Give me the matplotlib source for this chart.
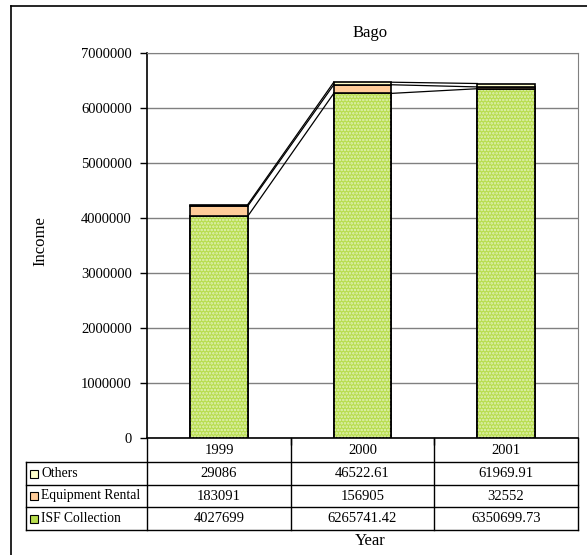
import numpy as np
import matplotlib.pyplot as plt
from matplotlib.patches import Rectangle
from matplotlib.lines import Line2D
from matplotlib.ticker import FuncFormatter

plt.rcParams['font.family'] = 'Liberation Serif'
plt.rcParams['hatch.linewidth'] = 1.2

years = ['1999', '2000', '2001']
isf_collection = [4027699, 6265741.42, 6350699.73]
equipment_rental = [183091, 156905, 32552]
others = [29086, 46522.61, 61969.91]
isf_text = ['4027699', '6265741.42', '6350699.73']
rental_text = ['183091', '156905', '32552']
others_text = ['29086', '46522.61', '61969.91']

W, H = 587, 555
fig = plt.figure(figsize=(W / 100, H / 100), dpi=100)

def fx(px):
    return px / W

def fy(py):
    return 1 - py / H

ax = fig.add_axes([fx(147), fy(438), fx(578) - fx(147), fy(53) - fy(438)])

x = np.arange(len(years))
w = 0.4
isf = np.array(isf_collection)
rent = np.array(equipment_rental)
oth = np.array(others)

green = '#b8dd4e'
ax.bar(x, isf, w, color=green, edgecolor='black', linewidth=1.2, zorder=3)
ax.bar(x, isf, w, facecolor='none', edgecolor='#e2f2b8', hatch='.....', linewidth=0, zorder=3)
ax.bar(x, isf, w, facecolor='none', edgecolor='black', linewidth=1.2, zorder=3)
ax.bar(x, rent, w, bottom=isf, color='#ffcc99', edgecolor='black', linewidth=1.2, zorder=3)
ax.bar(x, oth, w, bottom=isf + rent, color='#ffffcc', edgecolor='black', linewidth=1.2, zorder=3)

# series lines joining the top of each segment
tops = [isf, isf + rent, isf + rent + oth]
for t in tops:
    for i in range(len(x) - 1):
        ax.plot([x[i] + w / 2, x[i + 1] - w / 2], [t[i], t[i + 1]], color='black', lw=0.9, zorder=4)

ax.set_xlim(-0.5, 2.5)
ax.set_ylim(0, 7000000)
ax.set_yticks(np.arange(0, 7000001, 1000000))
ax.yaxis.set_major_formatter(FuncFormatter(lambda v, p: '%d' % v))
ax.grid(axis='y', color='#808080', lw=1.0, zorder=0)
ax.set_xticks([0.5, 1.5])
ax.set_xticklabels([])
ax.tick_params(axis='x', length=5, direction='out', width=1)
ax.tick_params(axis='y', labelsize=10.5, length=5, direction='out', width=1, pad=6)
for s in ['top', 'right']:
    ax.spines[s].set_color('#808080')
ax.spines['left'].set_linewidth(1.2)
ax.spines['bottom'].set_linewidth(1.2)

fig.text(fx(370), fy(33), 'Bago', ha='center', va='center', fontsize=12)
fig.text(fx(40), fy(241), 'Income', rotation=90, ha='center', va='center', fontsize=12)
fig.text(fx(370), fy(541), 'Year', ha='center', va='center', fontsize=12)

# data table under the plot
rows_y = [438, 462, 485, 507, 530]
cols_x = [147, 291, 434, 578]
lines = []
for py in rows_y[1:]:
    lines.append(([26, 578], [py, py]))
lines.append(([26, 26], [462, 530]))
for px in cols_x:
    lines.append(([px, px], [438, 530]))
for xs, ys in lines:
    fig.add_artist(Line2D([fx(v) for v in xs], [fy(v) for v in ys], color='black', lw=1.0))

centers = [(cols_x[i] + cols_x[i + 1]) / 2 for i in range(3)]
table_rows = [years, others_text, rental_text, isf_text]
for r, vals in enumerate(table_rows):
    yc = (rows_y[r] + rows_y[r + 1]) / 2
    for c, v in enumerate(vals):
        fig.text(fx(centers[c]), fy(yc), v, ha='center', va='center', fontsize=10.5)

labels = ['Others', 'Equipment Rental', 'ISF Collection']
key_colors = ['#ffffcc', '#ffcc99', green]
for r, (lab, col) in enumerate(zip(labels, key_colors)):
    yc = (rows_y[r + 1] + rows_y[r + 2]) / 2
    fig.add_artist(Rectangle((fx(30), fy(yc + 4)), fx(8), fy(0) - fy(8),
                             facecolor=col, edgecolor='black', lw=0.8))
    fig.text(fx(41), fy(yc), lab, ha='left', va='center', fontsize=9.8)

# chart frame
fig.add_artist(Line2D([fx(11), fx(11)], [fy(6), fy(555)], color='black', lw=1.2))
fig.add_artist(Line2D([fx(11), fx(587)], [fy(6), fy(6)], color='black', lw=1.2))

fig.savefig('out.png', dpi=100)
